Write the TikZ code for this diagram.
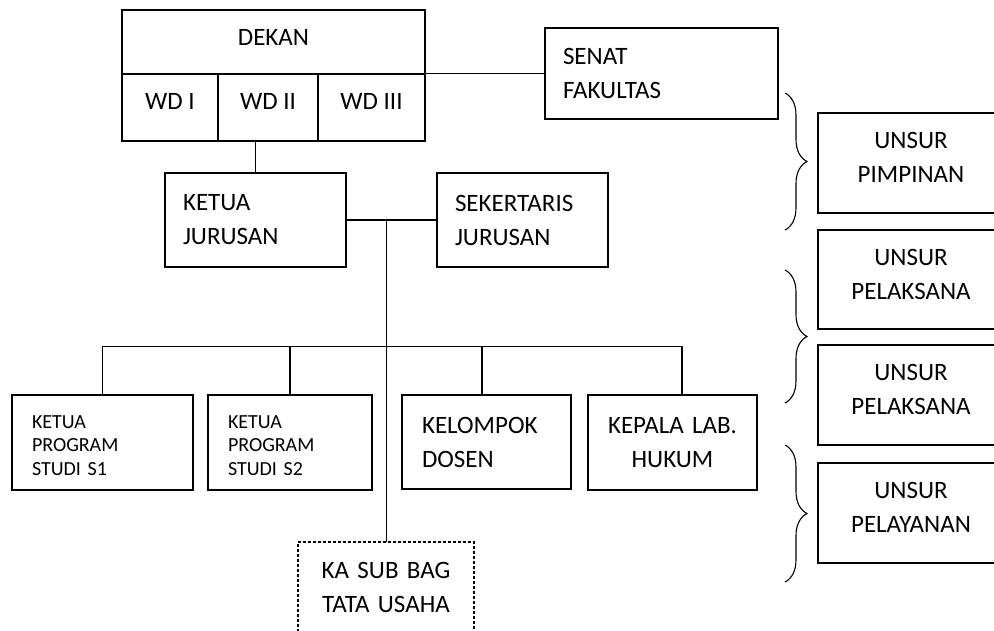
\documentclass[tikz,border=0pt]{standalone}
\usepackage{fontspec}
\setmainfont{Carlito}
\usetikzlibrary{decorations.pathreplacing}

\begin{document}
\begin{tikzpicture}[x=1pt, y=-1pt, line width=1.3pt,
    jabatan/.style={draw, outer sep=0pt, inner xsep=18pt, inner ysep=0pt, font=\fontsize{25}{34}\selectfont},
    pimpinan/.style={jabatan, line width=2.2pt, align=center, inner xsep=0pt},
    kiri/.style={jabatan, align=left},
    tengah/.style={jabatan, align=center},
    unsur/.style={tengah, minimum width=182pt, text width=150pt, text depth=45pt},
    prodi/.style={jabatan, align=left, inner xsep=20pt, text depth=41pt, font=\fontsize{20}{23.5}\selectfont},
    staf/.style={jabatan, align=center, inner xsep=20pt, inner ysep=20pt, dash pattern=on 3pt off 2pt, line width=1.8pt},
    kurawal/.style={decorate, decoration={brace, amplitude=22pt}, line width=1.1pt}]
  \useasboundingbox (0,0) rectangle (994,630);
  \clip (0,0) rectangle (994,630);

  \node[pimpinan, minimum width=303pt, minimum height=64pt, text depth=10pt] (DEKAN) at (273.5,42) {DEKAN};
  \node[pimpinan, anchor=north west, minimum width=96pt, minimum height=67pt, text depth=12pt] (WDI) at (DEKAN.south west) {WD I};
  \node[pimpinan, anchor=north west, minimum width=100pt, minimum height=67pt, text depth=12pt] (WDII) at (WDI.north east) {WD II};
  \node[pimpinan, anchor=north west, minimum width=107pt, minimum height=67pt, text depth=12pt] (WDIII) at (WDII.north east) {WD III};
  \node[kiri, minimum width=233pt, minimum height=91pt, text width=197pt] (SENAT) at (661.5,73.5) {SENAT\\FAKULTAS};

  \node[kiri, minimum width=181pt, minimum height=94pt, text width=145pt] (KAJUR) at (255.5,220) {KETUA\\JURUSAN};
  \node[kiri, minimum width=171pt, minimum height=94pt, text width=135pt] (SEKJUR) at (522.5,220) {SEKERTARIS\\JURUSAN};

  \node[prodi, minimum width=181pt, minimum height=95pt, text width=141pt] (KAPRODI1) at (102.5,442.5) {KETUA\\PROGRAM\\STUDI S1};
  \node[prodi, minimum width=164pt, minimum height=95pt, text width=124pt] (KAPRODI2) at (290,442.5) {KETUA\\PROGRAM\\STUDI S2};
  \node[kiri, inner xsep=20pt, minimum width=169pt, minimum height=94pt, text width=129pt] (DOSEN) at (486.5,442) {KELOMPOK\\DOSEN};
  \node[tengah, inner xsep=20pt, minimum width=169pt, minimum height=95pt, text width=129pt] (KALAB) at (672.5,442.5) {KEPALA LAB.\\HUKUM};
  \node[staf, anchor=north, text width=136pt, text depth=80pt] (SUBBAG) at (386,542) {KA SUB BAG\\TATA USAHA};

  \node[unsur, minimum height=100pt] (PIMPINAN) at (911,163) {UNSUR\\PIMPINAN};
  \node[unsur, minimum height=99pt] (PELAKSANA1) at (911,279.5) {UNSUR\\PELAKSANA};
  \node[unsur, minimum height=100pt] (PELAKSANA2) at (911,395) {UNSUR\\PELAKSANA};
  \node[unsur, minimum height=100pt] (PELAYANAN) at (911,513) {UNSUR\\PELAYANAN};

  \coordinate (CABANG) at (386,346);
  \draw (SENAT.west -| WDIII.east) -- (SENAT.west);
  \draw (KAJUR.north) -- (KAJUR.north |- WDII.south);
  \draw (KAJUR) -- (SEKJUR);
  \draw[line width=1pt] (SUBBAG.north) -- (SUBBAG.north |- KAJUR.east);
  \draw[line width=1pt] (KAPRODI1.north) |- ([xshift=9.5pt]KALAB.north |- CABANG);
  \draw ([xshift=9.5pt]KALAB.north) -- ([xshift=9.5pt]KALAB.north |- CABANG);
  \draw (KAPRODI2.north) -- (KAPRODI2.north |- CABANG);
  \draw ([xshift=-4.5pt]DOSEN.north) -- ([xshift=-4.5pt]DOSEN.north |- CABANG);

  \draw[kurawal] (785,93) -- (785,230);
  \draw[kurawal] (785,270) -- (785,403);
  \draw[kurawal] (785,445) -- (785,582);
\end{tikzpicture}
\end{document}
